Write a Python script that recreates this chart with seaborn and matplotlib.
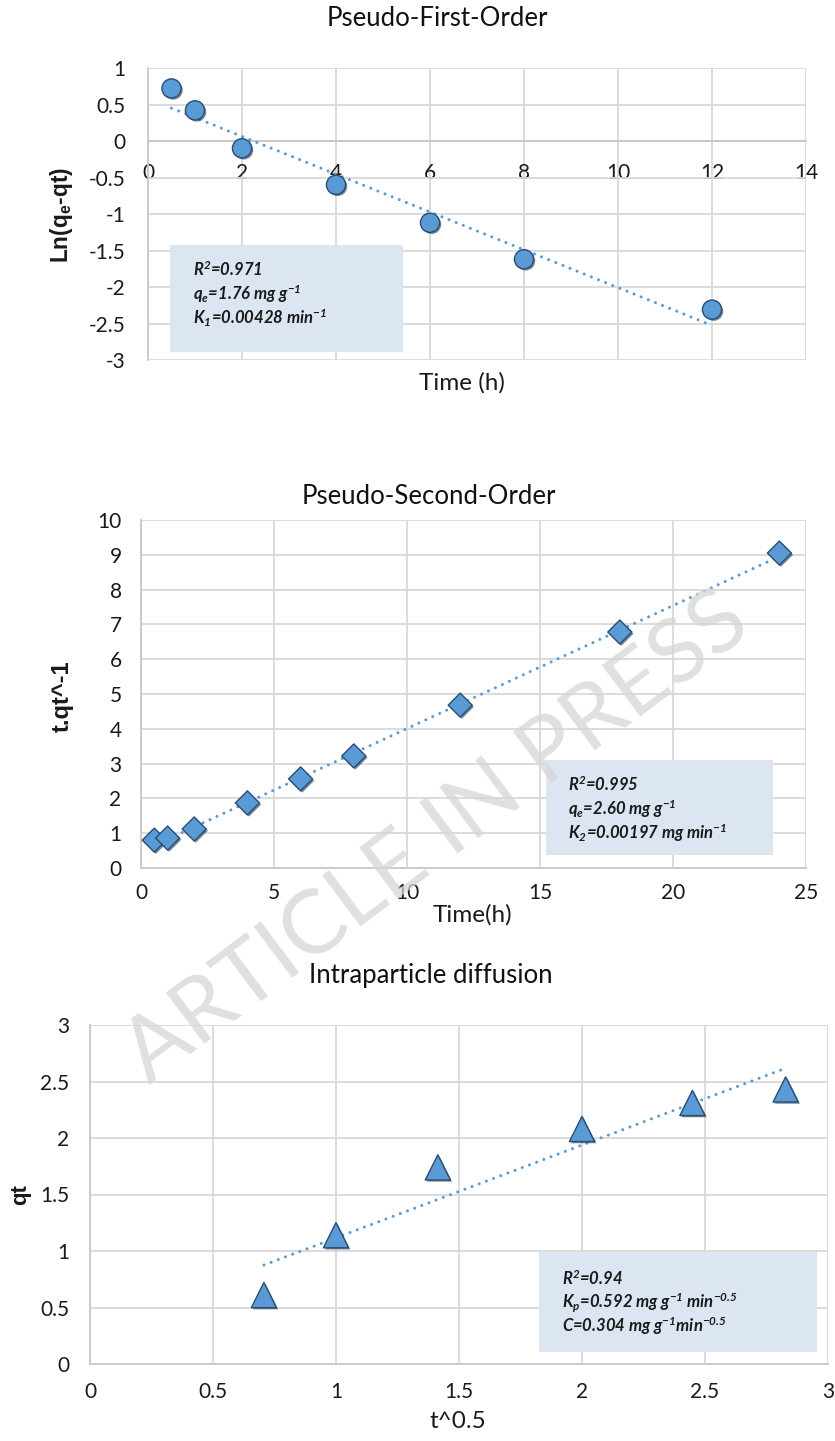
import matplotlib
matplotlib.use("Agg")
import matplotlib.pyplot as plt
import matplotlib.patheffects as pe
import matplotlib.ticker as mticker
from matplotlib.patches import Rectangle
import pandas as pd
import seaborn as sns

# ---- data -------------------------------------------------------------
pfo_time = [0.5, 1, 2, 4, 6, 8, 12]
pfo_ln = [0.72, 0.42, -0.10, -0.60, -1.12, -1.62, -2.31]
pfo_xticks = [0, 2, 4, 6, 8, 10, 12, 14]
pfo_yticks = [-3, -2.5, -2, -1.5, -1, -0.5, 0, 0.5, 1]

pso_time = [0.5, 1, 2, 4, 6, 8, 12, 18, 24]
pso_tq = [0.80, 0.86, 1.12, 1.87, 2.56, 3.22, 4.68, 6.78, 9.05]
pso_xticks = [0, 5, 10, 15, 20, 25]
pso_yticks = [0, 1, 2, 3, 4, 5, 6, 7, 8, 9, 10]

ipd_sqrt_t = [0.707, 1.0, 1.414, 2.0, 2.449, 2.828]
ipd_qt = [0.61, 1.14, 1.74, 2.08, 2.31, 2.43]
ipd_xticks = [0, 0.5, 1, 1.5, 2, 2.5, 3]
ipd_yticks = [0, 0.5, 1, 1.5, 2, 2.5, 3]

titles = ["Pseudo-First-Order", "Pseudo-Second-Order", "Intraparticle diffusion"]
xlabels = ["Time (h)", "Time(h)", "t^0.5"]
ylabels = [r"Ln(q$\mathregular{_e}$-qt)", "t.qt^-1", "qt"]

pfo_box = [r"R$\mathregular{^2}$=0.971",
           r"q$\mathregular{_e}$=1.76 mg g$\mathregular{^{-1}}$",
           r"K$\mathregular{_1}$=0.00428 min$\mathregular{^{-1}}$"]
pso_box = [r"R$\mathregular{^2}$=0.995",
           r"q$\mathregular{_e}$=2.60 mg g$\mathregular{^{-1}}$",
           r"K$\mathregular{_2}$=0.00197 mg min$\mathregular{^{-1}}$"]
ipd_box = [r"R$\mathregular{^2}$=0.94",
           r"K$\mathregular{_p}$=0.592 mg g$\mathregular{^{-1}}$ min$\mathregular{^{-0.5}}$",
           r"C=0.304 mg g$\mathregular{^{-1}}$min$\mathregular{^{-0.5}}$"]

# ---- style ------------------------------------------------------------
sns.set_theme(style="white")
plt.rcParams["font.family"] = ["Lato", "DejaVu Sans"]
plt.rcParams["axes.unicode_minus"] = False

W, H = 835, 1441
BLUE = "#5b9bd5"
GRID = "#d9d9d9"
BOXC = "#dce6f2"
TXT = "#1a1a1a"

fig = plt.figure(figsize=(W / 100, H / 100), dpi=100)


def px_axes(left, top, right, bottom):
    return fig.add_axes([left / W, 1 - bottom / H, (right - left) / W, (bottom - top) / H])


def fx(x):
    return x / W


def fy(y):
    return 1 - y / H


marker_fx = [pe.SimplePatchShadow(offset=(1.2, -1.2), shadow_rgbFace="#1d3550", alpha=0.6),
             pe.Normal()]


def draw_panel(ax, x, y, marker, size, xlim, ylim, xticks, yticks):
    df = pd.DataFrame({"x": x, "y": y})
    sns.regplot(data=df, x="x", y="y", ax=ax, scatter=False, ci=None, truncate=True,
                line_kws=dict(color=BLUE, lw=2.2, linestyle=(0, (0.01, 2.5)),
                              dash_capstyle="round", zorder=3))
    sns.scatterplot(data=df, x="x", y="y", ax=ax, marker=marker, s=size, color=BLUE,
                    edgecolor="#2a4c74", linewidth=1.0, zorder=6, legend=False)
    ax.collections[-1].set_path_effects(marker_fx)
    ax.set_xlim(*xlim)
    ax.set_ylim(*ylim)
    ax.set_xticks(xticks)
    ax.set_yticks(yticks)
    ax.xaxis.set_major_formatter(mticker.FormatStrFormatter("%g"))
    ax.yaxis.set_major_formatter(mticker.FormatStrFormatter("%g"))
    ax.grid(True, color=GRID, lw=1.3, zorder=0)
    ax.set_axisbelow(True)
    for s in ["top", "right"]:
        ax.spines[s].set_visible(False)
    for s in ["left", "bottom"]:
        ax.spines[s].set_color("#c8c8c8")
        ax.spines[s].set_linewidth(1.3)
    ax.tick_params(length=0, labelsize=15, labelcolor=TXT)


def add_box(ax, x0, y0, x1, y1, lines, tx, ty, dy):
    ax.add_patch(Rectangle((x0, y0), x1 - x0, y1 - y0, transform=ax.transAxes,
                           facecolor=BOXC, edgecolor="none", zorder=7))
    for i, line in enumerate(lines):
        ax.text(tx, ty - i * dy, line, transform=ax.transAxes, fontsize=12,
                fontweight="bold", fontstyle="italic", color=TXT,
                ha="left", va="center", zorder=8)


def labels(ax, xl, yl, xpos, ypos, ysize):
    ax.set_xlabel(xl, fontsize=17.5, color=TXT)
    ax.set_ylabel(yl, fontsize=ysize, fontweight="bold", color=TXT,
                  family=["Liberation Sans", "DejaVu Sans"])
    ax.xaxis.set_label_coords(*xpos)
    ax.yaxis.set_label_coords(*ypos)
    ax.xaxis.label.set_va("center")
    ax.yaxis.label.set_va("center")


# ---- pseudo-first-order ----------------------------------------------
ax1 = px_axes(148, 68, 806, 360)
draw_panel(ax1, pfo_time, pfo_ln, "o", 190, (0, 14), (-3, 1), pfo_xticks, pfo_yticks)
ax1.spines["bottom"].set_position(("data", 0))
ax1.tick_params(axis="x", pad=16)
ax1.tick_params(axis="y", pad=16)
add_box(ax1, 0.033, 0.027, 0.388, 0.394, pfo_box, 0.068, 0.312, 0.084)
labels(ax1, xlabels[0], ylabels[0], (0.477, -0.079), (-0.131, 0.497), 16.3)

# ---- pseudo-second-order ---------------------------------------------
ax2 = px_axes(141, 520, 806, 868)
draw_panel(ax2, pso_time, pso_tq, "D", 150, (0, 25), (0, 10), pso_xticks, pso_yticks)
ax2.tick_params(axis="x", pad=11)
ax2.tick_params(axis="y", pad=14)
add_box(ax2, 0.609, 0.037, 0.950, 0.310, pso_box, 0.642, 0.241, 0.070)
labels(ax2, xlabels[1], ylabels[1], (0.499, -0.135), (-0.119, 0.494), 17)

# ---- intraparticle diffusion -----------------------------------------
ax3 = px_axes(90, 1025, 828, 1364)
draw_panel(ax3, ipd_sqrt_t, ipd_qt, "^", 330, (0, 3), (0, 3), ipd_xticks, ipd_yticks)
ax3.tick_params(axis="x", pad=13)
ax3.tick_params(axis="y", pad=15)
add_box(ax3, 0.608, 0.035, 0.985, 0.330, ipd_box, 0.640, 0.254, 0.071)
labels(ax3, xlabels[2], ylabels[2], (0.499, -0.171), (-0.094, 0.499), 16)

# ---- titles -----------------------------------------------------------
for t, (cx, cy) in zip(titles, [(437, 18), (429, 497), (431, 975)]):
    fig.text(fx(cx), fy(cy), t, fontsize=18.5, color="#111111", ha="center", va="center")

# ---- watermark --------------------------------------------------------
fig.text(fx(452), fy(859), "ARTICLE IN PRESS", fontsize=65, fontweight="normal",
         color="#d6d6d6", alpha=0.75, rotation=36.9, rotation_mode="anchor",
         ha="center", va="baseline", zorder=20)

fig.savefig("out.png", dpi=100)
